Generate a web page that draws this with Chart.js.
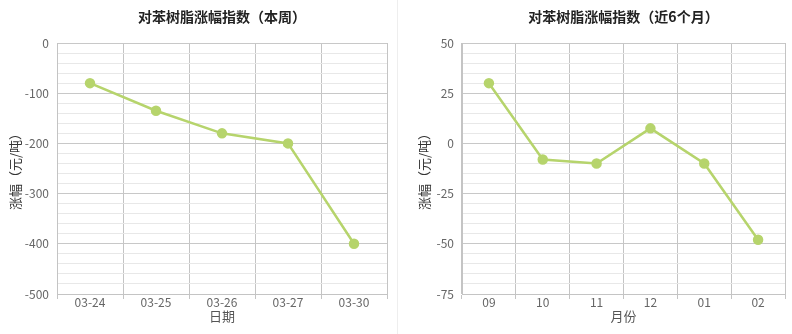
<!DOCTYPE html>
<html>
<head>
<meta charset="utf-8">
<script src="https://cdn.jsdelivr.net/npm/chart.js@4.4.1/dist/chart.umd.min.js"></script>
<style>
  html, body { margin: 0; padding: 0; background: #fff; }
  #wrap { width: 792px; height: 334px; position: relative; }
  .box { position: absolute; top: 0; height: 334px; }
  #left { left: 0; width: 397px; border-right: 1px solid #eeeeee; }
  #right { left: 398px; width: 394px; }
</style>
</head>
<body>
<div id="wrap">
  <div class="box" id="left"><canvas id="chartWeek"></canvas></div>
  <div class="box" id="right"><canvas id="chartMonth"></canvas></div>
</div>
<script>
// données
const weekLabels = ['03-24', '03-25', '03-26', '03-27', '03-30'];
const weekValues = [-80, -135, -180, -200, -400];
const monthLabels = ['09', '10', '11', '12', '01', '02'];
const monthValues = [30, -8, -10, 7.5, -10, -48];

const FONT = '"Noto Sans CJK SC", "Microsoft YaHei", sans-serif';
const GREEN = '#b6d46c';

// titre centré sur la zone du graphique
const centerTitle = {
  id: 'centerTitle',
  afterDraw(chart, args, opts) {
    const c = chart.ctx;
    const a = chart.chartArea;
    c.save();
    c.font = 'bold 14px ' + FONT;
    c.fillStyle = '#222';
    c.textAlign = 'center';
    c.textBaseline = 'middle';
    c.fillText(opts.text, (a.left + a.right) / 2, 17);
    c.restore();
  }
};

function makeChart(id, labels, values, cfg) {
  return new Chart(document.getElementById(id), {
    type: 'line',
    data: {
      labels: labels,
      datasets: [{
        data: values,
        borderColor: GREEN,
        backgroundColor: GREEN,
        borderWidth: 2.5,
        pointRadius: 4,
        pointHoverRadius: 4,
        tension: 0
      }]
    },
    plugins: [centerTitle],
    options: {
      responsive: true,
      maintainAspectRatio: false,
      animation: false,
      layout: { padding: { top: 43, left: cfg.padLeft, right: cfg.padRight, bottom: 0 } },
      plugins: {
        legend: { display: false },
        tooltip: { enabled: false },
        centerTitle: { text: cfg.title }
      },
      scales: {
        x: {
          offset: true,
          grid: { offset: true, color: '#c4c4c4', tickLength: 5, drawTicks: true },
          border: { color: '#c4c4c4' },
          ticks: { color: '#666', font: { family: FONT, size: 12 }, padding: -4 },
          title: { display: true, text: cfg.xTitle, color: '#555', font: { family: FONT, size: 13 }, padding: { top: 0, bottom: 10 } },
          afterFit: s => { s.height = 40; }
        },
        y: {
          min: cfg.min,
          max: cfg.max,
          grid: {
            drawTicks: false,
            color: ctx => (ctx.tick && ctx.tick.value % cfg.major === 0) ? '#c8c8c8' : '#e8e8e8'
          },
          border: { color: '#c4c4c4' },
          ticks: {
            stepSize: cfg.minor,
            autoSkip: false,
            padding: 8,
            color: '#666',
            font: { family: FONT, size: 12 },
            callback: v => (v % cfg.major === 0) ? v : ''
          },
          title: { display: true, text: '涨幅（元/吨）', color: '#333', font: { family: FONT, size: 13 }, padding: { top: 0, bottom: 0 } },
          afterFit: s => { s.width = cfg.yWidth; }
        }
      }
    }
  });
}

makeChart('chartWeek', weekLabels, weekValues, {
  title: '对苯树脂涨幅指数（本周）', xTitle: '日期',
  min: -500, max: 0, major: 100, minor: 20,
  padLeft: 7, padRight: 10, yWidth: 50
});

makeChart('chartMonth', monthLabels, monthValues, {
  title: '对苯树脂涨幅指数（近6个月）', xTitle: '月份',
  min: -75, max: 50, major: 25, minor: 5,
  padLeft: 18, padRight: 7, yWidth: 46
});
</script>
</body>
</html>
